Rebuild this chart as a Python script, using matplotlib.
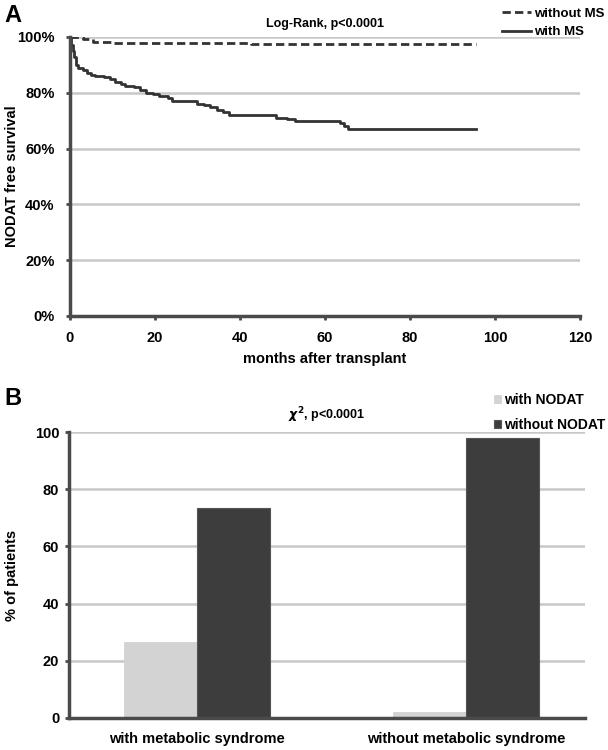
import numpy as np
import matplotlib.pyplot as plt

plt.rcParams['font.family'] = ['Liberation Sans', 'DejaVu Sans']
plt.rcParams['font.weight'] = 'bold'

# Panel A: Kaplan-Meier estimates (months, % NODAT free)
with_ms_t = [0, 0.3, 0.7, 1, 1.5, 2, 3, 4, 5, 6, 8, 9.5, 10.5, 12, 13, 15, 16.5, 18,
             19.5, 21, 23, 24, 28.5, 30, 31.5, 33, 34.5, 36, 37.5, 46.5, 48.5, 51,
             53, 62.5, 63.5, 64.5, 65.5, 95.5]
with_ms_s = [100, 97, 95, 93, 90, 89, 88, 87, 86.5, 86, 85.5, 85, 84, 83, 82.5, 82,
             81, 80, 79.5, 79, 78, 77, 77, 76, 75.5, 75, 74, 73, 72, 72, 71, 70.5,
             70, 70, 69, 68, 67, 67]
without_ms_t = [0, 3, 5.5, 10, 42.5, 95.5]
without_ms_s = [100, 99.2, 98.3, 97.9, 97.4, 97.4]

# Panel B
groups = ['with metabolic syndrome', 'without metabolic syndrome']
with_nodat = [26.7, 2.2]
without_nodat = [73.3, 97.8]

spine_col = '#4a4a4a'
grid_col = '#c8c8c8'

fig = plt.figure(figsize=(6.08, 7.5), dpi=100)

# ---- Panel A ----
ax1 = fig.add_axes([0.1151, 0.5787, 0.8388, 0.372])
for v in [20, 40, 60, 80, 100]:
    ax1.axhline(v, color=grid_col, lw=1.8, zorder=0)
ax1.plot(without_ms_t, without_ms_s, drawstyle='steps-post', color='#333333',
         lw=2, ls=(0, (3, 1.5)), label='without MS')
ax1.plot(with_ms_t, with_ms_s, drawstyle='steps-post', color='#333333',
         lw=2, label='with MS')
ax1.set_xlim(0, 120)
ax1.set_ylim(0, 100)
ax1.set_xticks(range(0, 121, 20))
ax1.set_yticks(range(0, 101, 20))
ax1.set_yticklabels([f'{v}%' for v in range(0, 101, 20)])
for s in ['top', 'right']:
    ax1.spines[s].set_visible(False)
for s in ['left', 'bottom']:
    ax1.spines[s].set_color(spine_col)
    ax1.spines[s].set_linewidth(2.5)
ax1.tick_params(axis='both', length=3, width=2, color=spine_col, labelsize=10.5, pad=8)
ax1.set_xlabel('months after transplant', fontsize=10.5, fontweight='bold', labelpad=5)
fig.text(0.02, 0.765, 'NODAT free survival', rotation=90, ha='center', va='center',
         fontsize=10.5, fontweight='bold')
ax1.text(0.5, 1.045, 'Log-Rank, p<0.0001', transform=ax1.transAxes, ha='center',
         va='center', fontsize=9, fontweight='bold')
ax1.legend(loc='upper right', bbox_to_anchor=(1.06, 1.128), frameon=False,
           handlelength=2.2, handletextpad=0.2, labelspacing=0.45,
           borderpad=0, prop={'weight': 'bold', 'size': 9.5})
fig.text(0.008, 0.98, 'A', fontsize=17, fontweight='bold', va='center')

# ---- Panel B ----
ax2 = fig.add_axes([0.1135, 0.0427, 0.8487, 0.3813])
for v in [20, 40, 60, 80, 100]:
    ax2.axhline(v, color=grid_col, lw=1.8, zorder=0)
x = np.arange(len(groups))
w = 0.27
ax2.bar(x - w / 2, with_nodat, w, color='#d3d3d3', edgecolor='#cfcfcf', lw=0.5,
        label='with NODAT', zorder=2)
ax2.bar(x + w / 2, without_nodat, w, color='#3d3d3d', edgecolor='#555555', lw=0.8,
        label='without NODAT', zorder=2)
ax2.set_xlim(-0.476, 1.442)
ax2.set_ylim(0, 100)
ax2.set_yticks(range(0, 101, 20))
ax2.set_xticks(x)
ax2.set_xticklabels(groups)
for s in ['top', 'right']:
    ax2.spines[s].set_visible(False)
for s in ['left', 'bottom']:
    ax2.spines[s].set_color(spine_col)
    ax2.spines[s].set_linewidth(2.5)
ax2.tick_params(axis='y', length=3, width=2, color=spine_col, labelsize=10.5, pad=4)
ax2.tick_params(axis='x', length=0, labelsize=10.5, pad=10)
fig.text(0.02, 0.233, '% of patients', rotation=90, ha='center', va='center',
         fontsize=10.5, fontweight='bold')
ax2.text(0.5, 1.06, r'$\chi^2$, p<0.0001', transform=ax2.transAxes, ha='center',
         va='center', fontsize=9, fontweight='bold')
ax2.legend(loc='upper right', bbox_to_anchor=(1.052, 1.16), frameon=False,
           handlelength=0.5, handleheight=0.5, handletextpad=0.2, labelspacing=0.8,
           borderpad=0, prop={'weight': 'bold', 'size': 10})
fig.text(0.008, 0.469, 'B', fontsize=17, fontweight='bold', va='center')

fig.savefig('out.png', dpi=100)
